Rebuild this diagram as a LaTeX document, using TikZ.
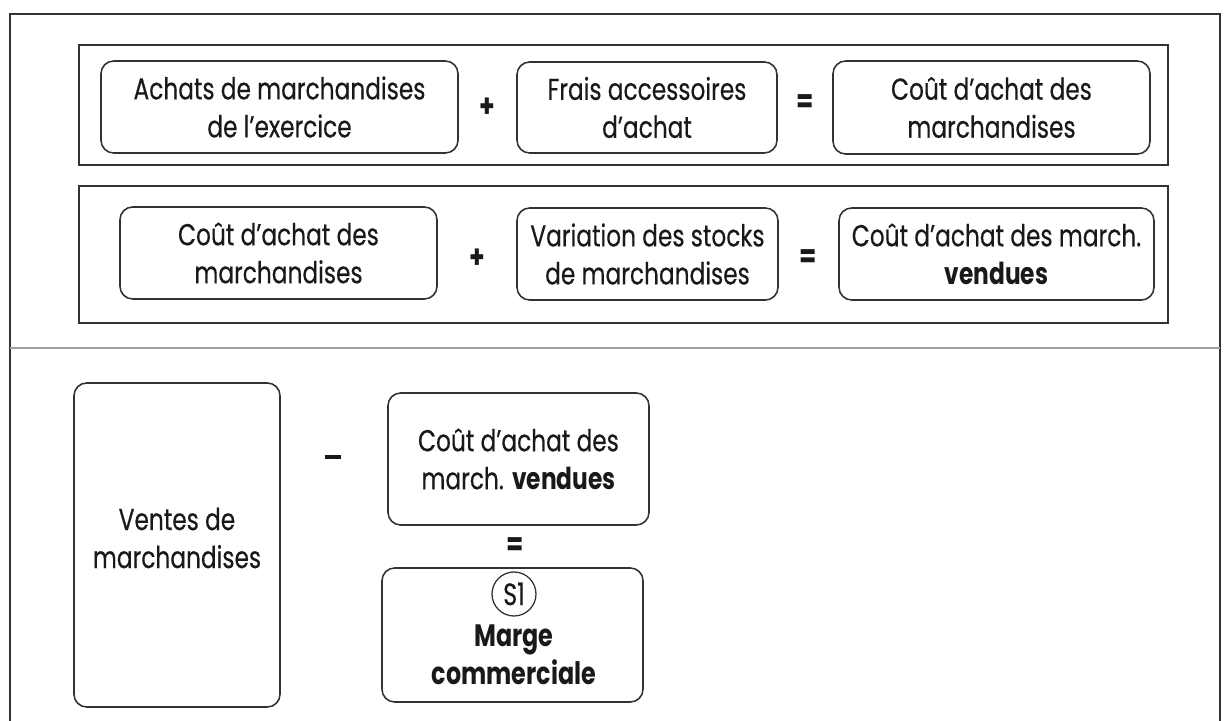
\documentclass[tikz,border=0pt]{standalone}
\usepackage{fontspec}
\setmainfont{Poppins}[FakeStretch=0.77, UprightFeatures={FakeBold=0.4}]
\usepackage{tikz}
\usetikzlibrary{positioning,calc}
\definecolor{framegray}{RGB}{50,50,50}
\definecolor{rulegray}{RGB}{160,160,160}
\definecolor{inkblack}{RGB}{25,25,25}

\begin{document}
\begin{tikzpicture}[x=0.025cm, y=-0.025cm,
    every node/.style={font=\fontsize{21.5}{27}\selectfont, text=inkblack},
    groupbox/.style={draw=framegray, line width=1.5pt},
    termbox/.style 2 args={draw=framegray, line width=1.1pt, rounded corners=9pt,
      align=center, inner sep=0pt, minimum width=#1*0.025cm, minimum height=#2*0.025cm},
    opsign/.style={font=\fontsize{23}{23}\selectfont\bfseries}]
  \useasboundingbox (0,0) rectangle (1225,721);
  % Frame
  \draw[groupbox] (10,721) |- (1220,14) -- (1220,721);
  \draw[rulegray, line width=0.8pt] (10,348) -- (1220,348);
  \draw[groupbox] (79,45) rectangle (1168,165);
  \draw[groupbox] (79,186) rectangle (1168,323);
  % Row 1
  \node[termbox={357}{92}] (achats) at (279.5,107) {Achats de marchandises\\de l’exercice};
  \node[termbox={260}{91}] (frais) at (647,107.5) {Frais accessoires\\d’achat};
  \node[termbox={317}{93}] (coutA) at (991.5,107.5) {Coût d’achat des\\marchandises};
  \node[opsign] (plusA) at ($(achats.east)!0.5!(frais.west)$) {+};
  \node[opsign] (eqA) at ($(frais.east)!0.5!(coutA.west)+(0,-4)$) {=};
  % Row 2
  \node[termbox={317}{92}] (coutB) at (278.5,253) {Coût d’achat des\\marchandises};
  \node[termbox={261}{92}] (variation) at (647.5,254) {Variation des stocks\\de marchandises};
  \node[termbox={315}{92}] (vendues) at (996.5,254) {Coût d’achat des march.\\\textbf{vendues}};
  \node[opsign] (plusB) at ($(coutB.east)!0.5!(variation.west)+(0,5)$) {+};
  \node[opsign] (eqB) at ($(variation.east)!0.5!(vendues.west)+(0,5)$) {=};
  % Marge
  \node[termbox={206}{324}] (ventes) at (177,545) {};
  \node (ventestxt) at (177,538) [align=center] {Ventes de\\marchandises};
  \node[termbox={261}{132}] (coutC) at (518.5,459) {Coût d’achat des\\march. \textbf{vendues}};
  \node[termbox={261}{134}] (marge) at (512.5,635) {};
  \node[inner sep=0pt] (minus) at (333,457) {\rule{0.38cm}{0.11cm}};
  \node[opsign] (eqC) at ($(coutC.south)!0.5!(marge.north)$) {=};
  \node[draw=framegray, line width=0.9pt, circle, inner sep=0pt, minimum size=44*0.025cm,
    font=\fontsize{22}{22}\selectfont] (s1) at (514,594) {S1};
  \node[below=2pt of s1, align=center, font=\fontsize{22}{27}\selectfont\bfseries] (margetxt)
    {Marge\\commerciale};
\end{tikzpicture}
\end{document}
